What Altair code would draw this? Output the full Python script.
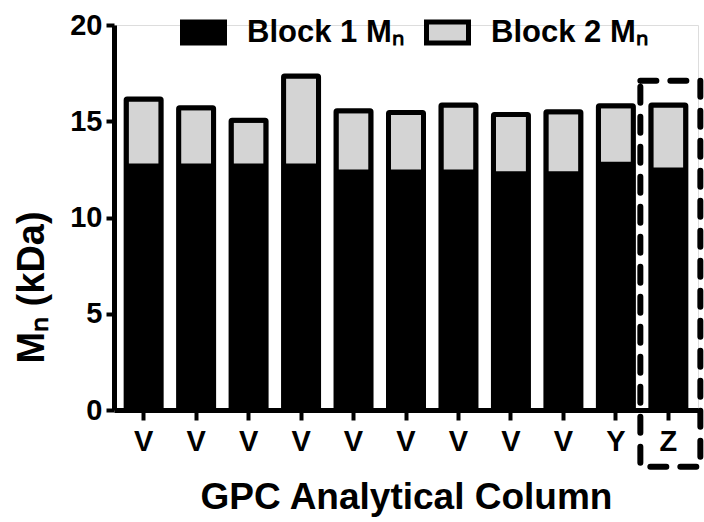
import altair as alt
import pandas as pd

labels = ["V", "V", "V", "V", "V", "V", "V", "V", "V", "Y", "Z"]
block1 = [12.67, 12.67, 12.67, 12.67, 12.37, 12.37, 12.37, 12.27, 12.27, 12.77, 12.47]
block2 = [3.48, 3.03, 2.38, 4.68, 3.18, 3.08, 3.48, 3.08, 3.23, 3.03, 3.38]
series = ["Block 1 Mₙ", "Block 2 Mₙ"]
colors = ["#000000", "#d4d4d4"]
highlight_pos = 11
highlight_range = [-2.95, 17.1]

rows = []
for i, (lab, b1, b2) in enumerate(zip(labels, block1, block2)):
    rows.append({"pos": i + 1, "label": lab, "series": series[0], "value": b1, "ord": 0})
    rows.append({"pos": i + 1, "label": lab, "series": series[1], "value": b2, "ord": 1})
df = pd.DataFrame(rows)

label_expr = "[" + ",".join(f"'{l}'" for l in labels) + "][datum.value - 1]"
FONT = "Liberation Sans"

x_enc = alt.X(
    "pos:O",
    scale=alt.Scale(paddingInner=0, paddingOuter=0.065),
    axis=alt.Axis(
        title="GPC Analytical Column",
        labelExpr=label_expr,
        labelAngle=0,
        labelFont=FONT,
        labelFontSize=29,
        labelFontWeight="bold",
        labelColor="black",
        labelPadding=7,
        domainColor="black",
        domainWidth=5,
        tickColor="black",
        tickWidth=4,
        tickSize=10,
        titleFont=FONT,
        titleFontSize=37,
        titleFontWeight="bold",
        titleColor="black",
        titleBaseline="middle",
        titleY=87,
    ),
)

bars = alt.Chart(df).mark_bar(
    size=35, stroke="black", strokeWidth=5, strokeJoin="round", cornerRadius=1
).encode(
    x=x_enc,
    y=alt.Y(
        "value:Q",
        stack="zero",
        scale=alt.Scale(domain=[0, 20], nice=False),
        axis=alt.Axis(
            title="Mₙ (kDa)",
            values=[0, 5, 10, 15, 20],
            grid=False,
            labelFont=FONT,
            labelFontSize=29,
            labelFontWeight="bold",
            labelColor="black",
            labelPadding=4,
            domainColor="black",
            domainWidth=5,
            tickColor="black",
            tickWidth=4,
            tickSize=8,
            titleFont=FONT,
            titleFontSize=38,
            titleFontWeight="bold",
            titleColor="black",
            titleBaseline="middle",
            titleX=-82,
            titleY=262,
        ),
    ),
    color=alt.Color(
        "series:N",
        scale=alt.Scale(domain=series, range=colors),
        legend=alt.Legend(
            title=None,
            orient="none",
            legendX=66,
            legendY=-16,
            direction="horizontal",
            symbolType="M-1,-0.5H1V0.5H-1Z",
            symbolSize=1764,
            symbolStrokeColor="black",
            symbolStrokeWidth=5,
            symbolOpacity=1,
            labelFont=FONT,
            labelFontSize=31,
            labelFontWeight="bold",
            labelColor="black",
            labelOffset=20,
            columnPadding=12,
            labelLimit=300,
        ),
    ),
    order=alt.Order("ord:Q"),
)

box_df = pd.DataFrame({"pos": [highlight_pos], "y0": [highlight_range[0]], "y1": [highlight_range[1]]})
box = alt.Chart(box_df).mark_bar(
    size=60, fill=None, fillOpacity=0, stroke="black", strokeWidth=6,
    strokeDash=[16, 14], strokeCap="round", xOffset=2
).encode(
    x=alt.X("pos:O"),
    y=alt.Y("y0:Q"),
    y2="y1:Q",
)

chart = alt.layer(bars, box).properties(
    width=584,
    height=385,
    autosize=alt.AutoSizeParams(type="none"),
    padding={"left": 114, "top": 25, "right": 6, "bottom": 112},
).configure_view(stroke=None).configure(background="white").configure_legend(
    symbolStrokeWidth=5, symbolStrokeColor="black"
)

chart.save("out.html", embed_options={"renderer": "svg", "actions": False})
